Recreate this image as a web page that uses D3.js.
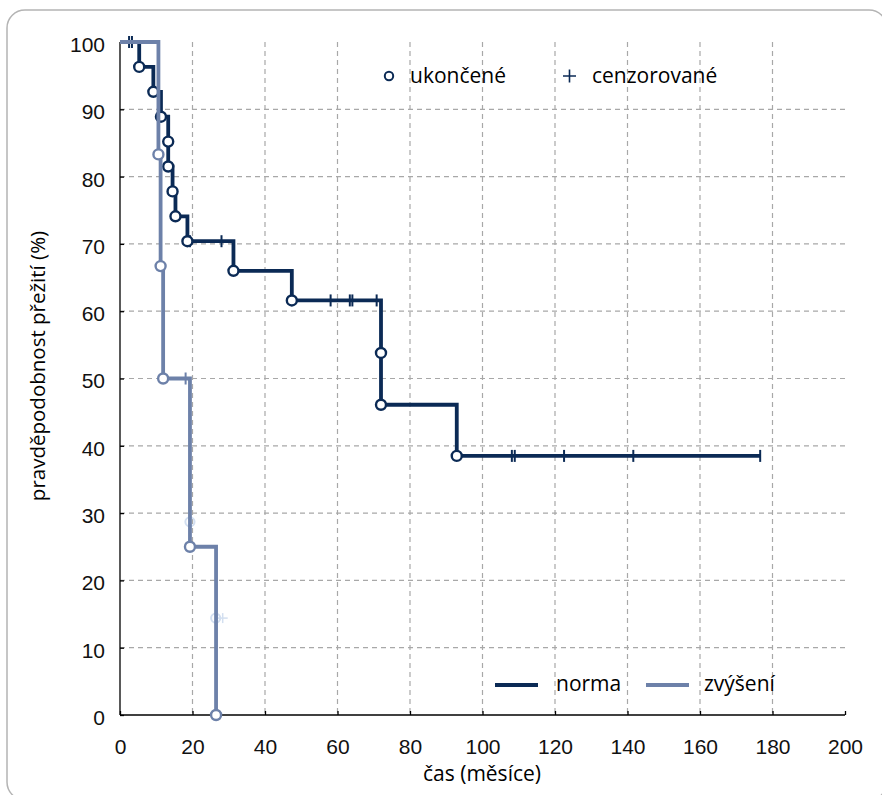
<!DOCTYPE html>
<html>
<head>
<meta charset="utf-8">
<script src="https://cdnjs.cloudflare.com/ajax/libs/d3/7.8.5/d3.min.js"></script>
<style>
  body { margin: 0; background: #fff; }
  svg { display: block; font-family: "Open Sans", sans-serif; }
  .grid line { stroke: #a8a8a8; stroke-width: 1.2; stroke-dasharray: 5 4; }
  .axis path, .axis line { stroke: #000; stroke-width: 1.3; }
  .axis text { font-size: 21px; fill: #111; }
</style>
</head>
<body>
<svg width="882" height="795"></svg>
<script>
// osy
var xTicks = [0, 20, 40, 60, 80, 100, 120, 140, 160, 180, 200];
var yTicks = [0, 10, 20, 30, 40, 50, 60, 70, 80, 90, 100];

// norma - udalosti (čas, přežití po události) a cenzorované časy
var normaEventTime = [5.3, 9.2, 11.3, 13.3, 13.3, 14.5, 15.3, 18.6, 31.3, 47.4, 72.0, 72.0, 92.9];
var normaEventSurv = [96.3, 92.6, 88.9, 85.2, 81.5, 77.8, 74.1, 70.4, 66.0, 61.6, 53.8, 46.1, 38.5];
var normaCensorTime = [2.5, 3.3, 19.3, 28.0, 58.1, 63.4, 64.1, 70.8, 108.1, 108.9, 122.5, 141.6, 176.6];

// zvýšení
var zvyEventTime = [10.6, 11.2, 11.9, 19.3, 26.5];
var zvyEventSurv = [83.3, 66.7, 50.0, 25.0, 0];
var zvyCensorTime = [18.1];

// slabé stíny v obrázku
var ghostTime = [19.3, 26.4];
var ghostSurv = [28.7, 14.4];

var legendTop = ["ukončené", "cenzorované"];
var legendBottom = ["norma", "zvýšení"];

var cNorma = "#0b2a55", cZvy = "#6d81a9", cGhost = "#d3dff0";

var svg = d3.select("svg");

// rámeček
svg.append("rect")
  .attr("x", 7).attr("y", 10)
  .attr("width", 880).attr("height", 790)
  .attr("rx", 18)
  .attr("fill", "none")
  .attr("stroke", "#b4b4b4")
  .attr("stroke-width", 1.5);

var x = d3.scaleLinear().domain([0, 200]).range([120, 845]);
var y = d3.scaleLinear().domain([0, 100]).range([715, 42]);

// mřížka
var grid = svg.append("g").attr("class", "grid");
grid.selectAll("line.v")
  .data(xTicks.filter(function (d) { return d > 0 && d < 200; }))
  .enter().append("line")
  .attr("x1", function (d) { return x(d); }).attr("x2", function (d) { return x(d); })
  .attr("y1", y(100)).attr("y2", y(0));
grid.selectAll("line.h")
  .data(yTicks.filter(function (d) { return d > 0 && d < 100; }))
  .enter().append("line")
  .attr("x1", x(0)).attr("x2", x(200))
  .attr("y1", function (d) { return y(d); }).attr("y2", function (d) { return y(d); });

// osy
var gx = svg.append("g").attr("class", "axis")
  .attr("transform", "translate(0," + y(0) + ")")
  .call(d3.axisBottom(x).tickValues(xTicks).tickSizeInner(-4).tickSizeOuter(0).tickPadding(24));
var gy = svg.append("g").attr("class", "axis")
  .attr("transform", "translate(" + x(0) + ",0)")
  .call(d3.axisLeft(y).tickValues(yTicks).tickSizeInner(-4).tickSizeOuter(0).tickPadding(15));
gx.select(".domain").remove();
gy.select(".domain").remove();
svg.append("line").attr("x1", x(0)).attr("x2", x(200)).attr("y1", y(0)).attr("y2", y(0))
  .attr("stroke", "#000").attr("stroke-width", 1.3);
svg.append("line").attr("x1", x(0)).attr("x2", x(0)).attr("y1", y(0)).attr("y2", y(100))
  .attr("stroke", "#000").attr("stroke-width", 1.3);
gy.selectAll("text").attr("dy", "0.45em");

// popisky os
svg.append("text")
  .attr("x", 482).attr("y", 781)
  .attr("text-anchor", "middle")
  .attr("font-size", 21)
  .text("čas (měsíce)");
svg.append("text")
  .attr("transform", "translate(45,366) rotate(-90)")
  .attr("text-anchor", "middle")
  .attr("font-size", 20.5)
  .text("pravděpodobnost přežití (%)");

// křivky
function survAt(times, survs, t) {
  var s = 100;
  for (var i = 0; i < times.length; i++) if (times[i] <= t) s = survs[i];
  return s;
}

var line = d3.line()
  .x(function (d) { return x(d[0]); })
  .y(function (d) { return y(d[1]); })
  .curve(d3.curveStepAfter);

function drawCurve(times, survs, censors, endT, color) {
  var pts = [[0, 100]];
  times.forEach(function (t, i) { pts.push([t, survs[i]]); });
  if (endT > times[times.length - 1]) pts.push([endT, survs[survs.length - 1]]);
  var g = svg.append("g");
  g.append("path")
    .attr("d", line(pts))
    .attr("fill", "none")
    .attr("stroke", color)
    .attr("stroke-width", 3.8);
  g.selectAll("line.cens")
    .data(censors)
    .enter().append("line")
    .attr("x1", function (d) { return x(d); }).attr("x2", function (d) { return x(d); })
    .attr("y1", function (d) { return y(survAt(times, survs, d)) - 6; })
    .attr("y2", function (d) { return y(survAt(times, survs, d)) + 6; })
    .attr("stroke", color).attr("stroke-width", 2);
  g.selectAll("circle")
    .data(times)
    .enter().append("circle")
    .attr("cx", function (d) { return x(d); })
    .attr("cy", function (d, i) { return y(survs[i]); })
    .attr("r", 5)
    .attr("fill", "#fff")
    .attr("stroke", color)
    .attr("stroke-width", 2.4);
}

// stíny
var gg = svg.append("g");
gg.selectAll("circle").data(ghostTime).enter().append("circle")
  .attr("cx", function (d) { return x(d); })
  .attr("cy", function (d, i) { return y(ghostSurv[i]); })
  .attr("r", 4.6).attr("fill", "none").attr("stroke", cGhost).attr("stroke-width", 2);
gg.append("line")
  .attr("x1", x(ghostTime[1]) + 2).attr("x2", x(ghostTime[1]) + 12)
  .attr("y1", y(ghostSurv[1])).attr("y2", y(ghostSurv[1]))
  .attr("stroke", cGhost).attr("stroke-width", 1.5);
gg.append("line")
  .attr("x1", x(ghostTime[1]) + 7).attr("x2", x(ghostTime[1]) + 7)
  .attr("y1", y(ghostSurv[1]) - 5).attr("y2", y(ghostSurv[1]) + 5)
  .attr("stroke", cGhost).attr("stroke-width", 1.5);

drawCurve(normaEventTime, normaEventSurv, normaCensorTime, 176.6, cNorma);
drawCurve(zvyEventTime, zvyEventSurv, zvyCensorTime, 26.5, cZvy);

// legenda nahoře
svg.append("circle").attr("cx", 389).attr("cy", 76).attr("r", 4.2)
  .attr("fill", "#fff").attr("stroke", cNorma).attr("stroke-width", 2);
svg.append("text").attr("x", 410).attr("y", 83).attr("font-size", 21).text(legendTop[0]);
svg.append("path").attr("d", "M563,76H576M569.5,69.5V82.5")
  .attr("stroke", cNorma).attr("stroke-width", 1.6);
svg.append("text").attr("x", 592).attr("y", 83).attr("font-size", 21).text(legendTop[1]);

// legenda dole
svg.append("line").attr("x1", 495).attr("x2", 538).attr("y1", 685).attr("y2", 685)
  .attr("stroke", cNorma).attr("stroke-width", 4);
svg.append("text").attr("x", 556).attr("y", 691).attr("font-size", 21).text(legendBottom[0]);
svg.append("line").attr("x1", 646).attr("x2", 689).attr("y1", 685).attr("y2", 685)
  .attr("stroke", cZvy).attr("stroke-width", 4);
svg.append("text").attr("x", 704).attr("y", 691).attr("font-size", 21).text(legendBottom[1]);
</script>
</body>
</html>
